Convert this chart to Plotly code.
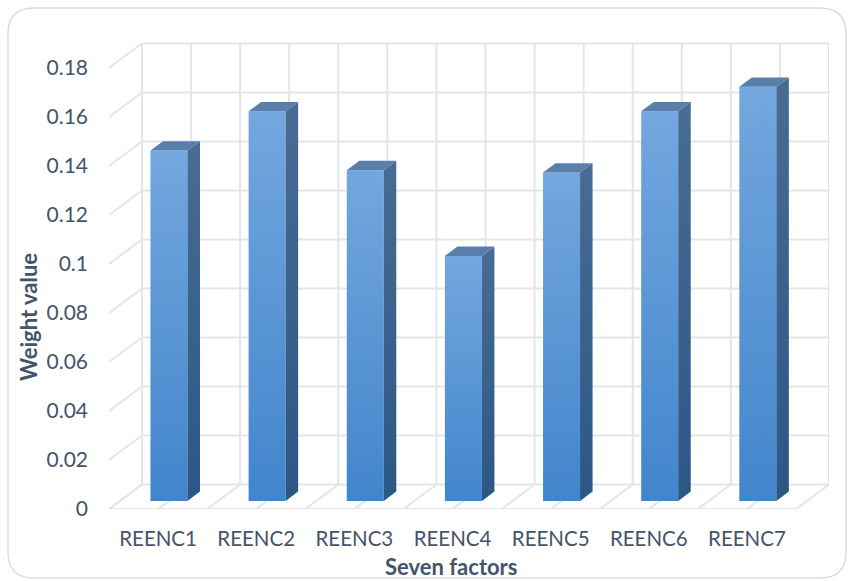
import plotly.graph_objects as go

# ---------------- data ----------------
categories = ["REENC1", "REENC2", "REENC3", "REENC4", "REENC5", "REENC6", "REENC7"]
weights = [0.143, 0.159, 0.135, 0.100, 0.134, 0.159, 0.169]
y_tick_values = [0, 0.02, 0.04, 0.06, 0.08, 0.10, 0.12, 0.14, 0.16, 0.18]
y_tick_labels = ["0", "0.02", "0.04", "0.06", "0.08", "0.1", "0.12", "0.14", "0.16", "0.18"]
x_title = "Seven factors"
y_title = "Weight value"

# ---------------- geometry / style ----------------
W, H = 850, 581
ML, MR, MT, MB = 109, 21, 40, 72
PW, PH = W - ML - MR, H - MT - MB
N = len(categories)
DX = 0.336          # depth offset along x (category units)
YTOP = 0.19143      # y-axis top
DY = 0.0100         # depth offset along y (value units)
F0, F1 = 0.33, 0.71  # bar depth (fraction of floor depth)
BW = 0.377          # bar width (category units)

TEXT = "#44546A"
GRID = "rgb(226,229,234)"
FRONT_CS = [[0, "rgb(66,133,204)"], [1, "rgb(115,167,222)"]]
SIDE_CS = [[0, "rgb(43,87,133)"], [1, "rgb(72,108,147)"]]
TOP_COL = "rgb(88,127,172)"

fig = go.Figure()

# ---------------- grid (walls and floor) ----------------
gx, gy = [], []
ymax = y_tick_values[-1]
for v in y_tick_values:
    gx += [DX, N + DX, None]
    gy += [v + DY, v + DY, None]
    gx += [0, DX, None]
    gy += [v, v + DY, None]
for k in range(2 * N + 1):
    xk = k * 0.5
    gx += [xk + DX, xk + DX, None]
    gy += [DY, ymax + DY, None]
    gx += [xk, xk + DX, None]
    gy += [0, DY, None]
gx += [0, N, None]
gy += [0, 0, None]

fig.add_trace(go.Scatter(x=gx, y=gy, mode="lines",
                         line=dict(color=GRID, width=2),
                         hoverinfo="skip", showlegend=False))

# ---------------- 3D bars ----------------
for i, (cat, v) in enumerate(zip(categories, weights)):
    c = i + 0.5
    xl, xr = c - BW / 2, c + BW / 2
    fx = [xl + F0 * DX, xr + F0 * DX, xr + F0 * DX, xl + F0 * DX, xl + F0 * DX]
    fy = [F0 * DY, F0 * DY, v + F0 * DY, v + F0 * DY, F0 * DY]
    fig.add_trace(go.Scatter(x=fx, y=fy, mode="lines", fill="toself",
                             line=dict(width=0, color="rgba(0,0,0,0)"),
                             fillgradient=dict(type="vertical", colorscale=FRONT_CS),
                             name=cat, hoverinfo="skip", showlegend=False))
    sx = [xr + F0 * DX, xr + F1 * DX, xr + F1 * DX, xr + F0 * DX, xr + F0 * DX]
    sy = [F0 * DY, F1 * DY, v + F1 * DY, v + F0 * DY, F0 * DY]
    fig.add_trace(go.Scatter(x=sx, y=sy, mode="lines", fill="toself",
                             line=dict(width=0, color="rgba(0,0,0,0)"),
                             fillgradient=dict(type="vertical", colorscale=SIDE_CS),
                             hoverinfo="skip", showlegend=False))
    tx = [xl + F0 * DX, xr + F0 * DX, xr + F1 * DX, xl + F1 * DX, xl + F0 * DX]
    ty = [v + F0 * DY, v + F0 * DY, v + F1 * DY, v + F1 * DY, v + F0 * DY]
    fig.add_trace(go.Scatter(x=tx, y=ty, mode="lines", fill="toself",
                             line=dict(width=0, color="rgba(0,0,0,0)"),
                             fillcolor=TOP_COL,
                             hoverinfo="skip", showlegend=False))
    fig.add_trace(go.Scatter(x=[c + F0 * DX], y=[v + F0 * DY], mode="markers",
                             marker=dict(size=1, opacity=0), name=cat,
                             hovertemplate=f"{cat}: {v}<extra></extra>",
                             showlegend=False))


def px_to_paper(px, py):
    return (px - ML) / PW, (H - MB - py) / PH


# ---------------- outer rounded border ----------------
x0, y0, x1, y1, r = 8, 8, 846, 578, 26
def P(px, py):
    a, b = px_to_paper(px, py)
    return f"{a:.5f},{b:.5f}"
path = (f"M {P(x0 + r, y0)} L {P(x1 - r, y0)} Q {P(x1, y0)} {P(x1, y0 + r)} "
        f"L {P(x1, y1 - r)} Q {P(x1, y1)} {P(x1 - r, y1)} "
        f"L {P(x0 + r, y1)} Q {P(x0, y1)} {P(x0, y1 - r)} "
        f"L {P(x0, y0 + r)} Q {P(x0, y0)} {P(x0 + r, y0)} Z")
fig.add_shape(type="path", path=path, xref="paper", yref="paper",
              line=dict(color="rgb(217,221,227)", width=1.5), layer="below")

# ---------------- axis titles ----------------
ax, ay = px_to_paper(451, 566)
fig.add_annotation(text=f"<b>{x_title}</b>", x=ax, y=ay, xref="paper", yref="paper",
                   showarrow=False, xanchor="center", yanchor="middle",
                   font=dict(family="Lato", size=22, color=TEXT))
bx, by = px_to_paper(28, 317)
fig.add_annotation(text=f"<b>{y_title}</b>", x=bx, y=by, xref="paper", yref="paper",
                   showarrow=False, xanchor="center", yanchor="middle", textangle=-90,
                   font=dict(family="Lato", size=22, color=TEXT))

fig.update_layout(
    width=W, height=H,
    margin=dict(l=ML, r=MR, t=MT, b=MB, pad=0),
    paper_bgcolor="white", plot_bgcolor="white",
    font=dict(family="Lato", size=20, color=TEXT),
    xaxis=dict(range=[0, N + DX], showgrid=False, zeroline=False, showline=False,
               tickmode="array", tickvals=[i + 0.5 for i in range(N)], ticktext=categories,
               ticks="", ticklabelstandoff=15, fixedrange=True,
               tickfont=dict(family="Lato", size=20.5, color=TEXT)),
    yaxis=dict(range=[0, YTOP], showgrid=False, zeroline=False, showline=False,
               tickmode="array", tickvals=y_tick_values, ticktext=y_tick_labels,
               ticks="", ticklabelstandoff=20, fixedrange=True,
               tickfont=dict(family="Lato", size=21, color=TEXT)),
    showlegend=False,
)

fig.write_html("out.html")
